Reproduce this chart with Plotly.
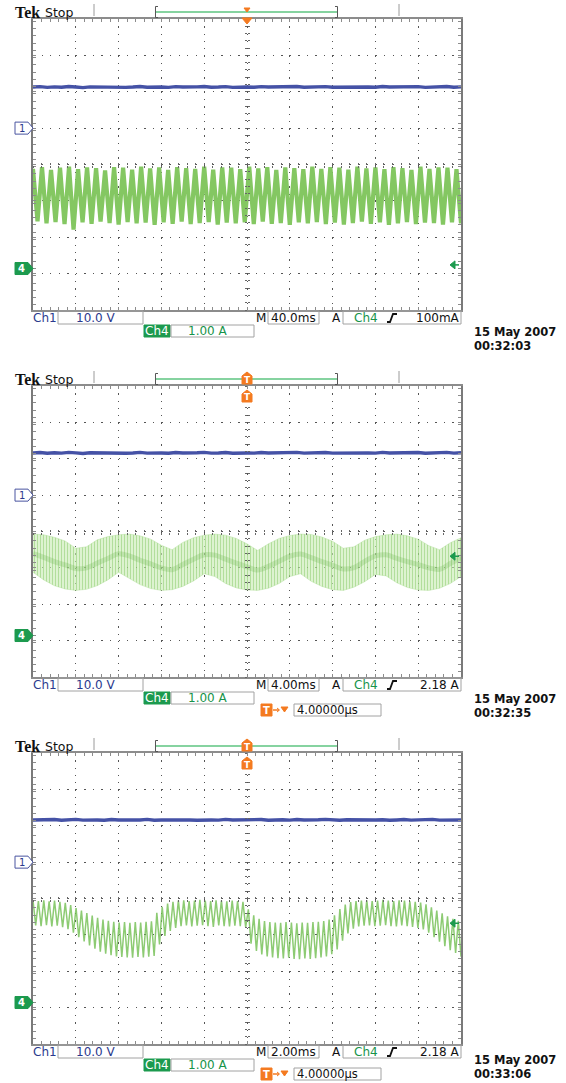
import numpy as np
import plotly.graph_objects as go

# ---------------- data ----------------
time_per_div_ms = [40.0, 4.0, 2.0]
ch1_volts_per_div = 10.0
ch4_amps_per_div = 1.00
ch1_ground_div = 1.0
ch4_ground_div = -2.86
ch4_trigger_level_a = [0.10, 2.18, 2.18]

timebase_labels = ["40.0ms", "4.00ms", "2.00ms"]
trigger_labels = ["100mA", "2.18 A", "2.18 A"]
ch1_scale_label = "10.0 V"
ch4_scale_label = "1.00 A"
delay_label = "4.00000µs"
date_label = "15 May 2007"
clock_labels = ["00:32:03", "00:32:35", "00:33:06"]

# Ch1 (blue, volts)
ch1_p1_v = [11.3, 11.4, 11.2, 11.35, 11.25, 11.45, 11.3, 11.15, 11.35, 11.3, 11.4, 11.25, 11.35, 11.2, 11.3,
            11.45, 11.25, 11.35, 11.3, 11.2, 11.4, 11.3, 11.25, 11.35, 11.45, 11.25, 11.3, 11.4, 11.2, 11.35,
            11.3, 11.25, 11.4, 11.3, 11.35, 11.2, 11.3, 11.45, 11.25, 11.35, 11.3, 11.4, 11.25, 11.3, 11.35,
            11.2, 11.4, 11.3, 11.25, 11.45, 11.3, 11.35, 11.25, 11.3, 11.4, 11.2, 11.35, 11.3, 11.45, 11.25, 11.35]
ch1_p2_v = [11.6, 11.7, 11.5, 11.65, 11.55, 11.75, 11.6, 11.45, 11.65, 11.6, 11.7, 11.55, 11.65, 11.5, 11.6,
            11.75, 11.55, 11.65, 11.6, 11.5, 11.7, 11.6, 11.55, 11.65, 11.75, 11.55, 11.6, 11.7, 11.5, 11.65,
            11.6, 11.55, 11.7, 11.6, 11.65, 11.5, 11.6, 11.75, 11.55, 11.65, 11.6, 11.7, 11.55, 11.6, 11.65,
            11.5, 11.7, 11.6, 11.55, 11.75, 11.6, 11.65, 11.55, 11.6, 11.7, 11.5, 11.65, 11.6, 11.75, 11.55, 11.65]
ch1_p3_v = [11.6, 11.65, 11.55, 11.7, 11.5, 11.6, 11.75, 11.55, 11.65, 11.6, 11.5, 11.7, 11.6, 11.55, 11.65,
            11.6, 11.75, 11.5, 11.6, 11.65, 11.55, 11.7, 11.6, 11.5, 11.65, 11.6, 11.55, 11.75, 11.6, 11.65,
            11.55, 11.6, 11.7, 11.5, 11.6, 11.65, 11.55, 11.7, 11.6, 11.55, 11.65, 11.75, 11.6, 11.5, 11.65,
            11.6, 11.55, 11.7, 11.6, 11.65, 11.5, 11.6, 11.7, 11.55, 11.65, 11.6, 11.75, 11.55, 11.6, 11.65, 11.6]

# Ch4 panel 1 (green, amps): peak / valley of each visible tooth
ch4_p1_peaks_a = [2.74, 2.79, 2.71, 2.77, 2.80, 2.73, 2.78, 2.76, 2.70, 2.79, 2.77, 2.72, 2.80, 2.75, 2.78, 2.71,
                  2.79, 2.76, 2.74, 2.80, 2.72, 2.78, 2.77, 2.73, 2.80, 2.75, 2.79, 2.71, 2.78, 2.76, 2.73, 2.80,
                  2.74, 2.79, 2.77, 2.72, 2.80, 2.75, 2.78, 2.73, 2.79, 2.76, 2.71, 2.80, 2.74, 2.78, 2.77, 2.73]
ch4_p1_valleys_a = [1.30, 1.24, 1.28, 1.22, 1.07, 1.27, 1.23, 1.29, 1.25, 1.21, 1.28, 1.24, 1.26, 1.20, 1.27, 1.23,
                    1.29, 1.22, 1.25, 1.28, 1.21, 1.26, 1.24, 1.27, 1.22, 1.29, 1.23, 1.25, 1.20, 1.27, 1.24, 1.28,
                    1.22, 1.26, 1.21, 1.25, 1.29, 1.23, 1.27, 1.20, 1.24, 1.28, 1.22, 1.26, 1.25, 1.21, 1.27, 1.24]

# Ch4 panel 2 (green band, amps): upper / lower envelope and the denser core
ch4_p2_upper_a = [2.79, 2.77, 2.70, 2.60, 2.40, 2.44, 2.63, 2.72, 2.77, 2.79, 2.74, 2.65, 2.48, 2.36,
                  2.56, 2.69, 2.76, 2.79, 2.76, 2.67, 2.52, 2.34, 2.52, 2.67, 2.75, 2.79, 2.78, 2.71,
                  2.59, 2.40, 2.44, 2.62, 2.72, 2.77, 2.79, 2.74, 2.65, 2.47, 2.36, 2.55, 2.69]
ch4_p2_lower_a = [1.74, 1.53, 1.37, 1.28, 1.24, 1.27, 1.37, 1.53, 1.74, 1.57, 1.40, 1.29, 1.24, 1.26,
                  1.35, 1.50, 1.70, 1.62, 1.43, 1.31, 1.25, 1.24, 1.30, 1.43, 1.62, 1.70, 1.49, 1.35,
                  1.26, 1.24, 1.33, 1.48, 1.68, 1.64, 1.45, 1.32, 1.25, 1.24, 1.30, 1.43, 1.62]
ch4_p2_core_a = [2.25, 2.15, 2.03, 1.94, 1.84, 1.86, 1.99, 2.12, 2.25, 2.19, 2.07, 1.97, 1.86, 1.81,
                 1.95, 2.10, 2.22, 2.21, 2.10, 1.99, 1.89, 1.80, 1.90, 2.04, 2.18, 2.24, 2.14, 2.03,
                 1.93, 1.83, 1.87, 2.04, 2.19, 2.22, 2.12, 2.03, 1.95, 1.86, 1.82, 1.98, 2.14]

# Ch4 panel 3 (green, amps): peak / valley of each tooth
ch4_p3_peaks_a = [2.80, 2.79, 2.81, 2.78, 2.80, 2.77, 2.74,
                  2.68, 2.60, 2.53, 2.46, 2.39, 2.33, 2.28, 2.25,
                  2.22, 2.20, 2.21, 2.19, 2.21, 2.20, 2.22, 2.23,
                  2.47, 2.63, 2.72, 2.77,
                  2.80, 2.81, 2.79, 2.80, 2.82, 2.80, 2.79, 2.81, 2.80, 2.78, 2.80, 2.79, 2.77,
                  2.56, 2.40, 2.30,
                  2.24, 2.21, 2.20, 2.19, 2.21, 2.20, 2.18, 2.20, 2.19, 2.21, 2.22, 2.24, 2.28,
                  2.40, 2.57, 2.69, 2.76,
                  2.79, 2.80, 2.81, 2.79, 2.80, 2.82, 2.80, 2.79, 2.81, 2.80, 2.78, 2.77, 2.75,
                  2.70, 2.62, 2.53, 2.45, 2.37, 2.30, 2.25]
ch4_p3_valleys_a = [2.12, 2.10, 2.13, 2.09, 2.11, 2.07, 2.02,
                    1.92, 1.80, 1.68, 1.57, 1.48, 1.40, 1.34, 1.30,
                    1.27, 1.25, 1.24, 1.23, 1.25, 1.24, 1.26, 1.28,
                    1.60, 1.83, 1.97, 2.05,
                    2.10, 2.12, 2.09, 2.11, 2.13, 2.10, 2.08, 2.12, 2.10, 2.09, 2.11, 2.10, 2.07,
                    1.62, 1.42, 1.32,
                    1.27, 1.24, 1.22, 1.21, 1.23, 1.20, 1.19, 1.21, 1.20, 1.22, 1.24, 1.27, 1.33,
                    1.46, 1.70, 1.90, 2.03,
                    2.09, 2.11, 2.12, 2.10, 2.11, 2.13, 2.10, 2.09, 2.12, 2.10, 2.08, 2.05, 2.01,
                    1.92, 1.80, 1.67, 1.55, 1.44, 1.36, 1.26]

# ---------------- geometry / style ----------------
W, H = 566, 1083
GX0, GX1 = 33, 461
GRID_TOPS = [19, 386, 753]
GH = 291
DIV_X = (GX1 - GX0) / 10.0
DIV_Y = GH / 8.0

BLUE_TRACE = "#4552a6"
BLUE_TEXT = "#2b3a8e"
GREEN_TRACE = "#84c762"
GREEN_TEXT = "#17934a"
GREEN_FILL = "#1c9a4e"
ORANGE = "#f47a20"
GRID = "#555555"
BORDER = "#8c8c8c"
FONT = "DejaVu Sans"


def P(x):
    return x / W


def Q(y):
    return 1 - y / H


def interleave(a, b):
    out = []
    for u, v in zip(a, b):
        out += [u, v]
    return out


fig = go.Figure()
layout = dict(width=W, height=H, margin=dict(l=0, r=0, t=0, b=0), autosize=False,
              paper_bgcolor="white", plot_bgcolor="white", showlegend=False)
shapes = []
annotations = []


def txt(x, y, s, color="#111111", size=12, anchor="left", family=FONT, weight="normal"):
    annotations.append(dict(x=P(x), y=Q(y), xref="paper", yref="paper", text=s, showarrow=False,
                            xanchor=anchor, yanchor="middle", borderpad=0,
                            font=dict(family=family, size=size, color=color, weight=weight)))


def box(x0, y0, x1, y1, line="#a2a2a2", fill="rgba(0,0,0,0)", width=1):
    shapes.append(dict(type="rect", xref="paper", yref="paper", x0=P(x0), x1=P(x1), y0=Q(y0), y1=Q(y1),
                       line=dict(color=line, width=width), fillcolor=fill, layer="above"))


def pxpath(points, color, width=1, fill=None, close=False):
    d = "M " + " L ".join(f"{P(x):.5f},{Q(y):.5f}" for x, y in points)
    if close:
        d += " Z"
    shapes.append(dict(type="path", xref="paper", yref="paper", path=d,
                       line=dict(color=color, width=width),
                       fillcolor=fill if fill else "rgba(0,0,0,0)", layer="above"))


def aname(kind, n):
    return kind + ("axis" if n == 1 else f"axis{n}")


def aref(kind, n):
    return kind if n == 1 else f"{kind}{n}"


for p in range(3):
    T = GRID_TOPS[p]
    B = T + GH
    tpd = time_per_div_ms[p]
    xr = [-5 * tpd, 5 * tpd]
    y4r = [(-4 - ch4_ground_div) * ch4_amps_per_div, (4 - ch4_ground_div) * ch4_amps_per_div]
    y1r = [(-4 - ch1_ground_div) * ch1_volts_per_div, (4 - ch1_ground_div) * ch1_volts_per_div]
    xdom = [P(GX0), P(GX1)]
    ydom = [Q(B), Q(T)]

    xm, xca, xcb = 1 + 3 * p, 2 + 3 * p, 3 + 3 * p
    ym, y1, yca, ycb = 1 + 4 * p, 2 + 4 * p, 3 + 4 * p, 4 + 4 * p

    # main graticule axes
    layout[aname("x", xm)] = dict(
        domain=xdom, range=xr, anchor=aref("y", ym), showticklabels=False, zeroline=False,
        showgrid=True, gridcolor=GRID, gridwidth=1, griddash=f"1.3px,{DIV_Y / 5 - 1.3:.2f}px",
        tick0=0, dtick=tpd, ticks="inside", ticklen=3, tickcolor=BORDER, tickwidth=1,
        minor=dict(dtick=tpd / 5, ticks="inside", ticklen=3, tickcolor=BORDER, showgrid=False),
        showline=True, linecolor=BORDER, linewidth=2, mirror="ticks", fixedrange=True)
    layout[aname("y", ym)] = dict(
        domain=ydom, range=y4r, anchor=aref("x", xm), showticklabels=False, zeroline=False,
        showgrid=True, gridcolor=GRID, gridwidth=1, griddash=f"1.3px,{DIV_X / 5 - 1.3:.2f}px",
        tick0=y4r[0], dtick=ch4_amps_per_div, ticks="inside", ticklen=3, tickcolor=BORDER, tickwidth=1,
        minor=dict(dtick=ch4_amps_per_div / 5, ticks="inside", ticklen=3, tickcolor=BORDER, showgrid=False),
        showline=True, linecolor="#7a7a7a", linewidth=2, mirror="ticks", fixedrange=True)
    # channel 1 scale (volts) on the same graticule
    layout[aname("y", y1)] = dict(overlaying=aref("y", ym), range=y1r, visible=False, fixedrange=True)

    # centre cross ticks
    ycen = Q(T + GH / 2)
    xcen = P((GX0 + GX1) / 2)
    for n, side in ((xca, "inside"), (xcb, "outside")):
        layout[aname("x", n)] = dict(
            overlaying=aref("x", xm), anchor="free", position=ycen, range=xr, showticklabels=False,
            showgrid=False, zeroline=False, showline=False, tick0=0, dtick=tpd / 5, ticks=side,
            ticklen=2, tickcolor="#666666", tickwidth=1, fixedrange=True)
        fig.add_trace(go.Scatter(x=[None], y=[None], xaxis=aref("x", n), yaxis=aref("y", ym),
                                 hoverinfo="skip"))
    for n, side in ((yca, "inside"), (ycb, "outside")):
        layout[aname("y", n)] = dict(
            overlaying=aref("y", ym), anchor="free", position=xcen, range=y4r, showticklabels=False,
            showgrid=False, zeroline=False, showline=False, tick0=y4r[0], dtick=ch4_amps_per_div / 5,
            ticks=side, ticklen=2, tickcolor="#666666", tickwidth=1, fixedrange=True)
        fig.add_trace(go.Scatter(x=[None], y=[None], xaxis=aref("x", xm), yaxis=aref("y", n),
                                 hoverinfo="skip"))

    XA, Y4, Y1 = aref("x", xm), aref("y", ym), aref("y", y1)

    # ---- channel 4 waveform ----
    if p == 0:
        yy = interleave(ch4_p1_peaks_a, ch4_p1_valleys_a)
        fig.add_trace(go.Scatter(x=np.linspace(xr[0], xr[1], len(yy)), y=yy, mode="lines",
                                 line=dict(color=GREEN_TRACE, width=4.2), xaxis=XA, yaxis=Y4,
                                 hoverinfo="skip"))
    elif p == 1:
        tt = np.linspace(xr[0], xr[1], len(ch4_p2_upper_a))
        fig.add_trace(go.Scatter(x=tt, y=ch4_p2_lower_a, mode="lines",
                                 line=dict(color="rgba(150,210,120,0.5)", width=0.6), xaxis=XA, yaxis=Y4,
                                 hoverinfo="skip"))
        fig.add_trace(go.Scatter(x=tt, y=ch4_p2_upper_a, mode="lines", fill="tonexty",
                                 fillcolor="rgba(170,220,140,0.4)",
                                 fillpattern=dict(shape="|", fgcolor="rgba(112,190,76,0.85)",
                                                  bgcolor="rgba(205,236,185,0.6)", size=3, solidity=0.4),
                                 line=dict(color="rgba(150,210,120,0.5)", width=0.6), xaxis=XA, yaxis=Y4,
                                 hoverinfo="skip"))
        fig.add_trace(go.Scatter(x=tt, y=ch4_p2_core_a, mode="lines",
                                 line=dict(color="rgba(105,180,70,0.25)", width=5, shape="spline"),
                                 xaxis=XA, yaxis=Y4, hoverinfo="skip"))
    else:
        yy = interleave(ch4_p3_peaks_a, ch4_p3_valleys_a)
        fig.add_trace(go.Scatter(x=np.linspace(xr[0], xr[1], len(yy)), y=yy, mode="lines",
                                 line=dict(color="rgba(112,190,80,0.8)", width=1.5), xaxis=XA, yaxis=Y4,
                                 hoverinfo="skip"))

    # ---- channel 1 waveform ----
    ch1 = [ch1_p1_v, ch1_p2_v, ch1_p3_v][p]
    fig.add_trace(go.Scatter(x=np.linspace(xr[0], xr[1], len(ch1)), y=ch1, mode="lines",
                             line=dict(color=BLUE_TRACE, width=3.4), xaxis=XA, yaxis=Y1, hoverinfo="skip"))

    # ---- channel ground markers (anchored on the channel scales) ----
    shapes.append(dict(type="path", xref="paper", yref=Y1, xsizemode="pixel", ysizemode="pixel",
                       xanchor=P(GX0), yanchor=0.0, path="M -18,-6 L -5,-6 L 0,0 L -5,6 L -18,6 Z",
                       line=dict(color="#4a55a0", width=1), fillcolor="white", layer="above"))
    annotations.append(dict(x=P(GX0 - 11.5), y=0.0, xref="paper", yref=Y1, text="1", showarrow=False,
                            xanchor="center", yanchor="middle",
                            font=dict(family=FONT, size=10, color=BLUE_TEXT)))
    shapes.append(dict(type="path", xref="paper", yref=Y4, xsizemode="pixel", ysizemode="pixel",
                       xanchor=P(GX0), yanchor=0.0, path="M -18,-6 L -5,-6 L 0,0 L -5,6 L -18,6 Z",
                       line=dict(color=GREEN_FILL, width=1), fillcolor=GREEN_FILL, layer="above"))
    annotations.append(dict(x=P(GX0 - 11.5), y=0.0, xref="paper", yref=Y4, text="4", showarrow=False,
                            xanchor="center", yanchor="middle",
                            font=dict(family=FONT, size=10, color="white", weight="bold")))
    # trigger level arrow on the right
    shapes.append(dict(type="path", xref="paper", yref=Y4, xsizemode="pixel", ysizemode="pixel",
                       xanchor=P(450), yanchor=ch4_trigger_level_a[p], path="M 0,0 L 5,-4 L 5,4 Z",
                       line=dict(color=GREEN_FILL, width=1), fillcolor=GREEN_FILL, layer="above"))
    shapes.append(dict(type="path", xref="paper", yref=Y4, xsizemode="pixel", ysizemode="pixel",
                       xanchor=P(450), yanchor=ch4_trigger_level_a[p], path="M 5,0 L 9,0",
                       line=dict(color=GREEN_FILL, width=1.5), layer="above"))

    # ---- header ----
    txt(14, T - 7, "Tek", size=16, family="Liberation Serif", weight="bold")
    txt(44, T - 7, "Stop", size=12.5)
    pxpath([(94, T - 15), (94, T - 3)], "#9a9a9a", 1)
    pxpath([(399, T - 15), (399, T - 3)], "#9a9a9a", 1)
    pxpath([(158, T - 12.5), (155.5, T - 12.5), (155.5, T - 1.5), (158, T - 1.5)], "#555555", 1)
    pxpath([(335, T - 12.5), (337.5, T - 12.5), (337.5, T - 1.5), (335, T - 1.5)], "#555555", 1)
    pxpath([(156, T - 7), (337, T - 7)], "#86d3a0", 2)
    # trigger position markers (at t = 0 on the time axis)
    if p == 0:
        shapes.append(dict(type="path", xref=XA, yref="paper", xsizemode="pixel", ysizemode="pixel",
                           xanchor=0.0, yanchor=Q(T - 9), path="M -3,2 L 3,2 L 0,-2 Z",
                           line=dict(color=ORANGE, width=1), fillcolor=ORANGE, layer="above"))
        shapes.append(dict(type="path", xref=XA, yref="paper", xsizemode="pixel", ysizemode="pixel",
                           xanchor=0.0, yanchor=Q(T), path="M -5,1 L 5,1 L 0,-5 Z",
                           line=dict(color=ORANGE, width=1), fillcolor=ORANGE, layer="above"))
    else:
        for yc in (T - 7, T + 11):
            shapes.append(dict(type="path", xref=XA, yref="paper", xsizemode="pixel", ysizemode="pixel",
                               xanchor=0.0, yanchor=Q(yc), path="M -5,-5 L 5,-5 L 5,3 L 0,7 L -5,3 Z",
                               line=dict(color=ORANGE, width=1), fillcolor=ORANGE, layer="above"))
            annotations.append(dict(x=0.0, y=Q(yc + 0.5), xref=XA, yref="paper", text="T", showarrow=False,
                                    xanchor="center", yanchor="middle",
                                    font=dict(family=FONT, size=9, color="white", weight="bold")))

    # ---- bottom readouts ----
    r1 = B + 8
    txt(32, r1, "Ch1", color=BLUE_TEXT)
    box(58, B + 1, 143, B + 14)
    txt(75, r1, ch1_scale_label, color=BLUE_TEXT)
    txt(267, r1, "M", anchor="right")
    box(268, B + 1, 319, B + 14)
    txt(270, r1, timebase_labels[p])
    txt(331, r1, "A")
    box(343, B + 1, 461, B + 14)
    txt(353, r1, "Ch4", color=GREEN_TEXT)
    pxpath([(387, r1 + 4), (390, r1 + 4), (393, r1 - 4), (397, r1 - 4)], "#111111", 1.8)
    txt(461, r1, trigger_labels[p], anchor="right")
    r2 = B + 21
    box(144, B + 15, 170, B + 27, line=GREEN_FILL, fill=GREEN_FILL)
    txt(157, r2, "Ch4", color="white", anchor="center")
    box(171, B + 15, 254, B + 27)
    txt(187, r2, ch4_scale_label, color=GREEN_TEXT)
    r3 = min(B + 33, H - 9)
    if p > 0:
        box(261, r3 - 6, 272, r3 + 6, line=ORANGE, fill=ORANGE)
        txt(266.5, r3, "T", color="white", anchor="center", size=10, weight="bold")
        pxpath([(273, r3), (279, r3)], ORANGE, 1.5)
        pxpath([(277, r3 - 2), (279.5, r3), (277, r3 + 2)], ORANGE, 1)
        pxpath([(281, r3 - 3), (288, r3 - 3), (284.5, r3 + 2)], ORANGE, 1, fill=ORANGE, close=True)
        box(294, r3 - 6, 381, r3 + 6)
        txt(296, r3, delay_label, size=11.5)
    clock_y = min(B + 36, H - 9)
    txt(473, clock_y - 14, date_label, weight="bold", size=11.5)
    txt(473, clock_y, clock_labels[p], weight="bold", size=11.5)

layout["shapes"] = shapes
layout["annotations"] = annotations
fig.update_layout(**layout)
fig.write_html("out.html", config={"displayModeBar": False},
               post_script="document.body.style.margin='0';document.body.style.padding='0';"
                           "document.body.style.overflow='hidden';")
